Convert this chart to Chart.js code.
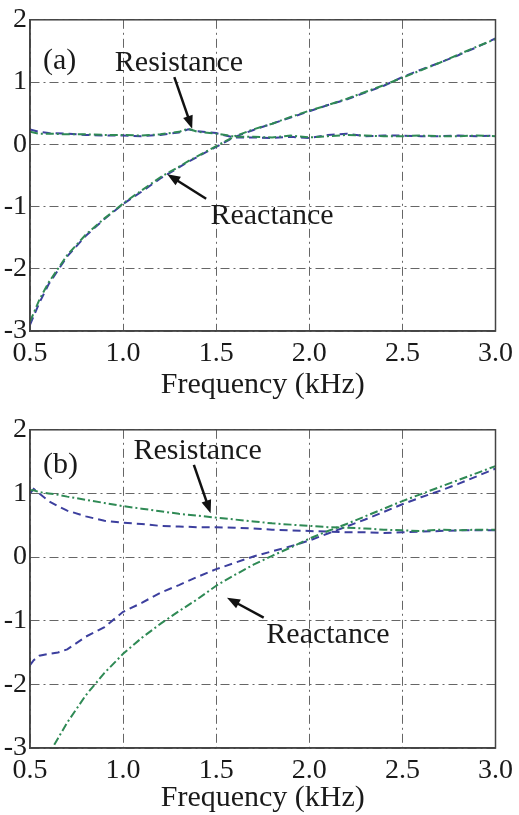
<!DOCTYPE html>
<html>
<head>
<meta charset="utf-8">
<script src="https://cdn.jsdelivr.net/npm/chart.js@4.4.0/dist/chart.umd.min.js"></script>
<style>
  body { margin: 0; background: #fff; }
  #wrap { position: relative; width: 519px; height: 815px; }
  canvas { position: absolute; left: 0; }
</style>
</head>
<body>
<div id="wrap">
  <canvas id="chartA" width="519" height="400" style="top:0"></canvas>
  <canvas id="chartB" width="519" height="405" style="top:410px"></canvas>
</div>
<script>
// frequency axis (kHz)
var freqA = [0.5, 0.55, 0.6, 0.7, 0.8, 0.9, 1.0, 1.1, 1.2, 1.3, 1.35, 1.4, 1.5, 1.55, 1.6, 1.7, 1.8, 1.9, 2.0, 2.1, 2.2, 2.3, 2.4, 2.5, 2.6, 2.7, 2.8, 2.9, 3.0];
var freqB = [0.5, 0.52, 0.55, 0.6, 0.65, 0.7, 0.8, 0.9, 1.0, 1.1, 1.2, 1.3, 1.4, 1.5, 1.6, 1.7, 1.8, 1.9, 2.0, 2.1, 2.2, 2.3, 2.4, 2.5, 2.6, 2.7, 2.8, 2.9, 3.0];

// panel (a)
var resBlueA = [0.24, 0.2, 0.18, 0.17, 0.15, 0.14, 0.14, 0.13, 0.15, 0.19, 0.24, 0.21, 0.18, 0.14, 0.11, 0.11, 0.1, 0.12, 0.1, 0.15, 0.17, 0.13, 0.14, 0.14, 0.13, 0.13, 0.14, 0.13, 0.14];
var resGreenA = [0.2, 0.17, 0.17, 0.16, 0.16, 0.15, 0.15, 0.14, 0.16, 0.2, 0.25, 0.2, 0.17, 0.15, 0.12, 0.12, 0.11, 0.14, 0.11, 0.13, 0.15, 0.14, 0.13, 0.13, 0.14, 0.13, 0.13, 0.14, 0.13];
var reacBlueA = [-2.9, -2.55, -2.25, -1.8, -1.47, -1.2, -0.96, -0.76, -0.55, -0.37, -0.28, -0.2, -0.04, 0.04, 0.12, 0.23, 0.33, 0.43, 0.53, 0.63, 0.72, 0.83, 0.94, 1.08, 1.2, 1.31, 1.43, 1.56, 1.7];
var reacGreenA = [-2.85, -2.5, -2.22, -1.78, -1.45, -1.19, -0.95, -0.74, -0.53, -0.36, -0.27, -0.19, -0.03, 0.05, 0.13, 0.24, 0.33, 0.44, 0.54, 0.63, 0.73, 0.84, 0.95, 1.07, 1.19, 1.31, 1.44, 1.57, 1.69];

// panel (b)
var resBlueB = [1.0, 1.07, 1.0, 0.88, 0.8, 0.73, 0.64, 0.57, 0.54, 0.52, 0.49, 0.48, 0.47, 0.47, 0.46, 0.45, 0.43, 0.42, 0.41, 0.4, 0.39, 0.39, 0.38, 0.39, 0.4, 0.41, 0.42, 0.42, 0.42];
var resGreenB = [1.05, 1.05, 1.02, 1.0, 0.98, 0.95, 0.9, 0.85, 0.8, 0.76, 0.72, 0.68, 0.65, 0.62, 0.59, 0.56, 0.53, 0.51, 0.49, 0.47, 0.46, 0.45, 0.43, 0.42, 0.41, 0.43, 0.42, 0.43, 0.43];
var reacBlueB = [-1.7, -1.62, -1.55, -1.52, -1.5, -1.45, -1.25, -1.1, -0.86, -0.72, -0.56, -0.44, -0.31, -0.19, -0.09, 0.01, 0.09, 0.17, 0.26, 0.37, 0.48, 0.59, 0.71, 0.83, 0.94, 1.04, 1.15, 1.27, 1.39];
var reacGreenB = [-3.6, -3.5, -3.35, -3.1, -2.85, -2.6, -2.17, -1.82, -1.52, -1.27, -1.05, -0.85, -0.66, -0.45, -0.28, -0.12, 0.02, 0.15, 0.29, 0.41, 0.52, 0.64, 0.76, 0.88, 0.99, 1.1, 1.21, 1.32, 1.43];

var xTicks = [0.5, 1.0, 1.5, 2.0, 2.5, 3.0];
var yTicks = [-3, -2, -1, 0, 1, 2];

var FONT = '"Liberation Serif", "Times New Roman", serif';
var BLUE = '#3c3f9e';
var GREEN = '#2f8a55';
var GRID_DASH = [9, 4, 2, 4];

function pts(xs, ys) {
  return xs.map(function (x, i) { return { x: x, y: ys[i] }; });
}

// order: lower number is drawn on top
function line(xs, ys, color, dash, order) {
  return {
    data: pts(xs, ys),
    borderColor: color,
    borderWidth: 2,
    borderDash: dash,
    pointRadius: 0,
    tension: 0,
    fill: false,
    order: order
  };
}

function drawArrow(ctx, x1, y1, x2, y2) {
  var ang = Math.atan2(y2 - y1, x2 - x1);
  var hl = 13, hw = 5;
  ctx.strokeStyle = '#111';
  ctx.fillStyle = '#111';
  ctx.lineWidth = 2.5;
  ctx.beginPath();
  ctx.moveTo(x1, y1);
  ctx.lineTo(x2 - Math.cos(ang) * hl * 0.8, y2 - Math.sin(ang) * hl * 0.8);
  ctx.stroke();
  ctx.beginPath();
  ctx.moveTo(x2, y2);
  ctx.lineTo(x2 - Math.cos(ang) * hl - Math.sin(ang) * hw, y2 - Math.sin(ang) * hl + Math.cos(ang) * hw);
  ctx.lineTo(x2 - Math.cos(ang) * hl + Math.sin(ang) * hw, y2 - Math.sin(ang) * hl - Math.cos(ang) * hw);
  ctx.closePath();
  ctx.fill();
}

// box around the plot + text labels and arrows (given in data units)
var framePlugin = {
  id: 'frame',
  afterDraw: function (chart, args, opts) {
    var ctx = chart.ctx, a = chart.chartArea;
    var xs = chart.scales.x, ys = chart.scales.y;
    ctx.save();
    ctx.strokeStyle = '#444';
    ctx.lineWidth = 1.5;
    ctx.strokeRect(a.left, a.top, a.right - a.left, a.bottom - a.top);
    ctx.fillStyle = '#1a1a1a';
    ctx.font = '30px ' + FONT;
    ctx.textBaseline = 'middle';
    (opts.labels || []).forEach(function (l) {
      ctx.textAlign = l.align;
      ctx.fillText(l.text, xs.getPixelForValue(l.x), ys.getPixelForValue(l.y));
    });
    (opts.arrows || []).forEach(function (r) {
      drawArrow(ctx, xs.getPixelForValue(r[0]), ys.getPixelForValue(r[1]),
                xs.getPixelForValue(r[2]), ys.getPixelForValue(r[3]));
    });
    ctx.restore();
  }
};

function makeChart(id, datasets, padTop, xHeight, titlePad, notes) {
  var ctx = document.getElementById(id).getContext('2d');
  return new Chart(ctx, {
    type: 'line',
    data: { datasets: datasets },
    plugins: [framePlugin],
    options: {
      responsive: false,
      animation: false,
      layout: { padding: { top: padTop, right: 21, left: 0, bottom: 0 } },
      plugins: {
        legend: { display: false },
        tooltip: { enabled: false },
        frame: notes
      },
      scales: {
        x: {
          type: 'linear',
          min: 0.5,
          max: 3.0,
          afterFit: function (s) { s.height = xHeight; },
          afterBuildTicks: function (s) { s.ticks = xTicks.map(function (v) { return { value: v }; }); },
          grid: { color: '#666', lineWidth: 1, drawTicks: false },
          border: { display: true, color: '#444', width: 1.5, dash: GRID_DASH },
          ticks: {
            font: { family: FONT, size: 28 },
            color: '#1a1a1a',
            padding: 6,
            maxRotation: 0,
            autoSkip: false,
            callback: function (v) { return v.toFixed(1); }
          },
          title: {
            display: true,
            text: 'Frequency (kHz)',
            font: { family: FONT, size: 30, lineHeight: 1.0 },
            color: '#1a1a1a',
            padding: { top: 0, bottom: titlePad }
          }
        },
        y: {
          min: -3,
          max: 2,
          afterFit: function (s) { s.width = 30; },
          afterBuildTicks: function (s) { s.ticks = yTicks.map(function (v) { return { value: v }; }); },
          grid: { color: '#666', lineWidth: 1, drawTicks: false },
          border: { display: true, color: '#444', width: 1.5, dash: GRID_DASH },
          ticks: {
            font: { family: FONT, size: 28 },
            color: '#1a1a1a',
            padding: 3,
            callback: function (v) { return String(v); }
          }
        }
      }
    }
  });
}

makeChart('chartA', [
  line(freqA, resBlueA, BLUE, [8, 5], 2),
  line(freqA, resGreenA, GREEN, [8, 3, 2, 3], 1),
  line(freqA, reacBlueA, BLUE, [8, 5], 2),
  line(freqA, reacGreenA, GREEN, [8, 3, 2, 3], 1)
], 11, 69, 0, {
  labels: [
    { text: '(a)', x: 0.57, y: 1.34, align: 'left' },
    { text: 'Resistance', x: 1.30, y: 1.31, align: 'center' },
    { text: 'Reactance', x: 1.80, y: -1.16, align: 'center' }
  ],
  arrows: [
    [1.275, 1.08, 1.371, 0.25],
    [1.446, -0.875, 1.237, -0.48]
  ]
});

makeChart('chartB', [
  line(freqB, resBlueB, BLUE, [8, 5], 2),
  line(freqB, resGreenB, GREEN, [8, 3, 2, 3], 1),
  line(freqB, reacBlueB, BLUE, [8, 5], 2),
  line(freqB, reacGreenB, GREEN, [8, 3, 2, 3], 1)
], 18, 67, 2, {
  labels: [
    { text: '(b)', x: 0.57, y: 1.45, align: 'left' },
    { text: 'Resistance', x: 1.40, y: 1.66, align: 'center' },
    { text: 'Reactance', x: 2.10, y: -1.23, align: 'center' }
  ],
  arrows: [
    [1.38, 1.45, 1.47, 0.69],
    [1.755, -0.95, 1.558, -0.64]
  ]
});
</script>
</body>
</html>
